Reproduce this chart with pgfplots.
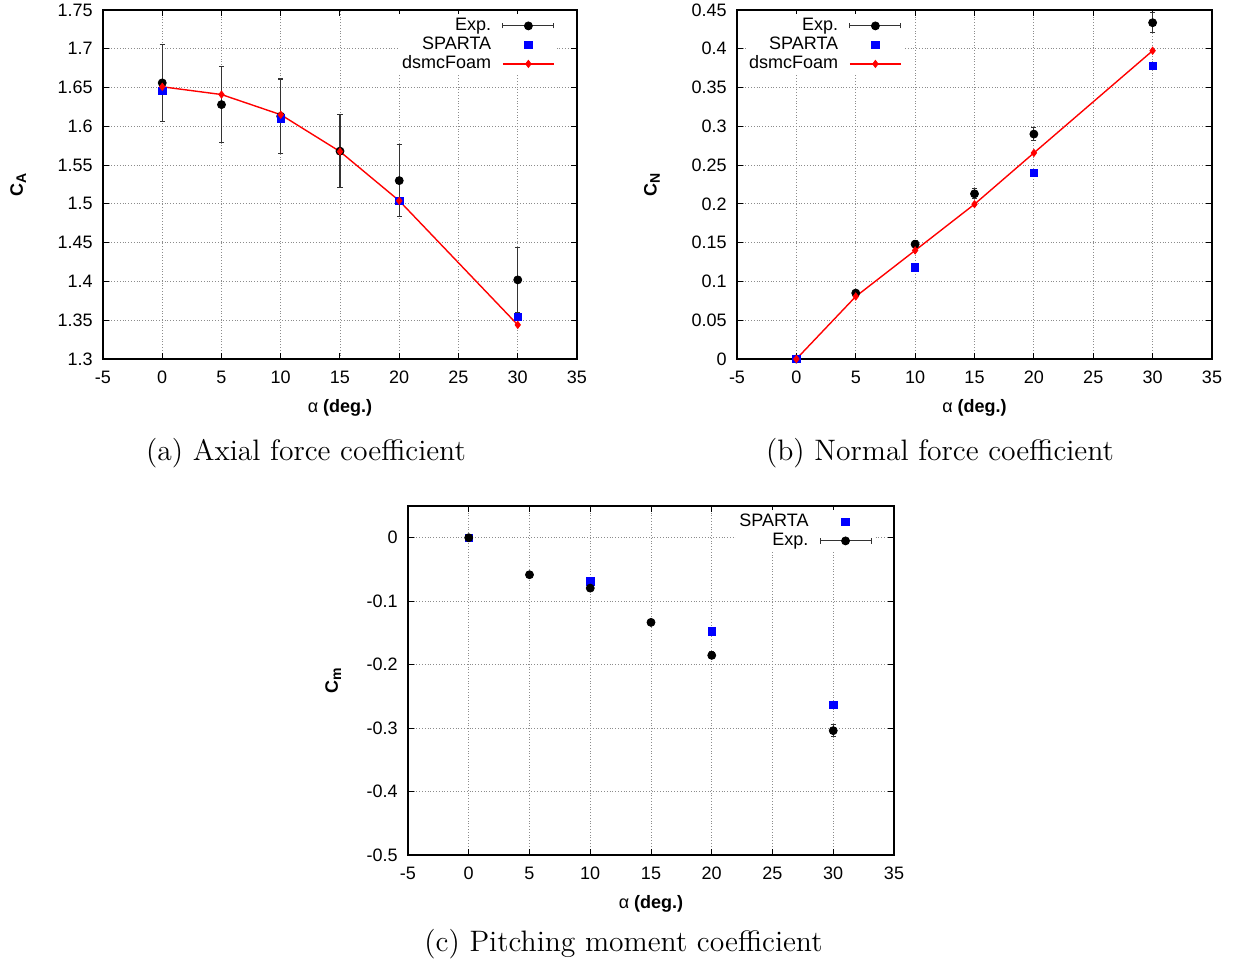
\documentclass[border=0pt]{standalone}
\usepackage{fontspec}
\usepackage{pgfplots}
\pgfplotsset{compat=1.18}
\newfontfamily\arial{Liberation Sans}
\newcommand{\sub}[1]{\raisebox{-0.35ex}{\fontsize{7}{8}\selectfont #1}}

\pgfplotsset{
  gp/.style={
    scale only axis,
    width=237pt, height=174.5pt,
    xmin=-5, xmax=35,
    xtick={-5,0,5,10,15,20,25,30,35},
    xticklabels={-5,0,5,10,15,20,25,30,35},
    grid=major,
    grid style={densely dotted, black!45, line width=0.4pt},
    axis line style={line width=0.8pt},
    tick align=inside,
    major tick length=3pt,
    tick style={black, line width=0.5pt},
    every tick label/.append style={font=\arial\fontsize{9}{10}\selectfont},
    xticklabel style={anchor=base, yshift=-12.5pt},
    yticklabel style={anchor=east, inner sep=0pt, xshift=-5pt},
    xlabel={{\mdseries α} (deg.)},
    xlabel style={font=\arial\bfseries\fontsize{9}{10}\selectfont, at={(axis description cs:0.5,0)}, anchor=base, yshift=-27pt},
    ylabel style={font=\arial\bfseries\fontsize{9}{10}\selectfont, anchor=center, at={(axis description cs:-0.179,0.5)}},
    clip=false,
    legend style={draw=none, fill=white, inner sep=1pt,
      font=\arial\fontsize{9}{10}\selectfont,
      legend cell align=right, legend plot pos=right, row sep=0pt,
      nodes={inner sep=0.5pt, text height=6.6pt, text depth=1.9pt}},
    /tikz/every odd column/.append style={column sep=5pt},
  },
  expstyle/.style={black, mark=*, mark size=2pt, only marks,
    error bars/y dir=both, error bars/y explicit,
    error bars/error bar style={line width=0.55pt, black!80},
    error bars/error mark options={rotate=90, mark size=1.3pt, line width=0.55pt, black!80},
    legend image code/.code={
    \draw[black!80, line width=0.55pt] (0pt,0pt)--(25.5pt,0pt) (0pt,-1.3pt)--(0pt,1.3pt) (25.5pt,-1.3pt)--(25.5pt,1.3pt);
    \fill[black] (12.75pt,0pt) circle (2pt);}},
  spstyle/.style={only marks, mark=square*, mark size=1.85pt, mark options={draw=blue, fill=blue},
    legend image code/.code={\draw plot coordinates {(12.75pt,0pt)};}},
  dsstyle/.style={red, line width=0.7pt, mark=diamond*, mark size=1.8pt, mark options={line width=0.4pt},
    legend image code/.code={\draw[mark repeat=2,mark phase=2] plot coordinates {(0pt,0pt) (12.75pt,0pt) (25.5pt,0pt)};}},
}

\begin{document}
\begin{tikzpicture}
\useasboundingbox (0,0) rectangle (619.5pt,-483.5pt);

% (a)
\begin{axis}[gp, at={(51.5pt,-179.5pt)}, anchor=south west,
  ymin=1.3, ymax=1.75,
  ytick={1.3,1.35,1.4,1.45,1.5,1.55,1.6,1.65,1.7,1.75},
  yticklabels={1.3,1.35,1.4,1.45,1.5,1.55,1.6,1.65,1.7,1.75},
  ylabel={C\sub{A}},
  legend style={at={(rel axis cs:1,1)}, anchor=north east, xshift=-10pt, yshift=-2pt}]
\addplot[expstyle] coordinates {
  (0,1.656) +- (0,0.050)
  (5,1.628) +- (0,0.049)
  (10,1.613) +- (0,0.048)
  (15,1.568) +- (0,0.047)
  (20,1.530) +- (0,0.046)
  (30,1.402) +- (0,0.042)
};
\addlegendentry{Exp.}
\addplot[spstyle] coordinates {(0,1.646) (10,1.610) (20,1.504) (30,1.354)};
\addlegendentry{SPARTA}
\addplot[dsstyle] coordinates {(0,1.651) (5,1.641) (10,1.615) (15,1.5675) (20,1.504) (30,1.344)};
\addlegendentry{dsmcFoam}
\end{axis}

% (b)
\begin{axis}[gp, width=237.5pt, at={(368.5pt,-179.5pt)}, anchor=south west,
  ymin=0, ymax=0.45,
  ytick={0,0.05,0.1,0.15,0.2,0.25,0.3,0.35,0.4,0.45},
  yticklabels={0,0.05,0.1,0.15,0.2,0.25,0.3,0.35,0.4,0.45},
  ylabel={C\sub{N}},
  legend style={at={(rel axis cs:0,1)}, anchor=north east, xshift=83.5pt, yshift=-2pt}]
\addplot[expstyle] coordinates {
  (0,0) +- (0,0)
  (5,0.085) +- (0,0.0026)
  (10,0.148) +- (0,0.0044)
  (15,0.213) +- (0,0.0064)
  (20,0.290) +- (0,0.0087)
  (30,0.4336) +- (0,0.013)
};
\addlegendentry{Exp.}
\addplot[spstyle] coordinates {(0,0) (10,0.118) (20,0.240) (30,0.378)};
\addlegendentry{SPARTA}
\addplot[dsstyle] coordinates {(0,0) (5,0.0806) (10,0.140) (15,0.1996) (20,0.2657) (30,0.3975)};
\addlegendentry{dsmcFoam}
\end{axis}

% (c)
\begin{axis}[gp, width=243pt, at={(204pt,-427.5pt)}, anchor=south west,
  ymin=-0.5, ymax=0.05,
  ytick={-0.5,-0.4,-0.3,-0.2,-0.1,0},
  yticklabels={-0.5,-0.4,-0.3,-0.2,-0.1,0},
  ylabel={C\sub{m}},
  ylabel style={at={(axis description cs:-0.154,0.5)}},
  legend style={at={(rel axis cs:1,1)}, anchor=north east, xshift=-10pt, yshift=-2pt}]
\addplot[spstyle] coordinates {(0,0) (10,-0.0688) (20,-0.1476) (30,-0.263)};
\addlegendentry{SPARTA}
\addplot[expstyle] coordinates {
  (0,0) +- (0,0)
  (5,-0.0583) +- (0,0.0017)
  (10,-0.0794) +- (0,0.0024)
  (15,-0.1334) +- (0,0.004)
  (20,-0.1854) +- (0,0.0056)
  (30,-0.304) +- (0,0.0091)
};
\addlegendentry{Exp.}
\end{axis}

\node[anchor=base, font=\fontsize{14.8}{17}\selectfont] at (153pt,-230.5pt) {(a) Axial force coefficient};
\node[anchor=base, font=\fontsize{14.8}{17}\selectfont] at (470pt,-230.5pt) {(b) Normal force coefficient};
\node[anchor=base, font=\fontsize{14.8}{17}\selectfont] at (311.75pt,-476pt) {(c) Pitching moment coefficient};
\end{tikzpicture}
\end{document}
